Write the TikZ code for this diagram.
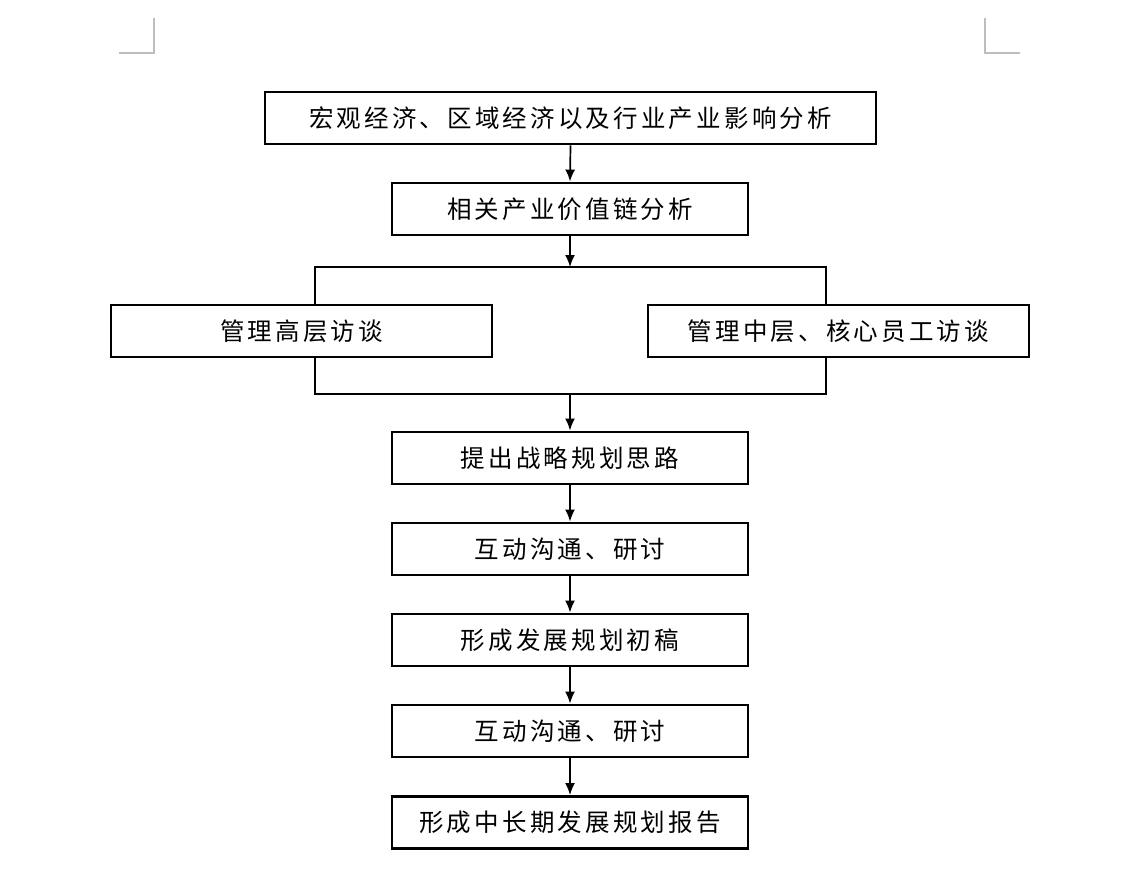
\documentclass[tikz,border=0pt]{standalone}
\usepackage{fontspec}
\newfontfamily\cjk[LetterSpace=13]{Noto Sans CJK SC}
\usetikzlibrary{arrows.meta}
\definecolor{markgray}{RGB}{190,190,190}
\tikzset{
  box/.style={draw=black, line width=2.9pt, fill=white, minimum height=52pt, inner sep=0pt, font=\cjk\fontsize{24.5pt}{28pt}\selectfont},
  conn/.style={draw=black, line width=1.7pt},
  arr/.style={conn, -{Latex[length=12pt,width=10pt]}},
  cornermark/.style={draw=markgray, line width=1.4pt}
}
\begin{document}
\begin{tikzpicture}[x=1pt,y=-1pt]
\fill[white] (0,0) rectangle (1148,880);
\useasboundingbox (0,0) rectangle (1148,880);
% corner marks
\draw[cornermark] (154,18) -- (154,53) -- (119,53);
\draw[cornermark] (985,18) -- (985,53) -- (1020,53);
% boxes
\node[box, minimum width=611pt] (b1) at (570.5,118) {宏观经济、区域经济以及行业产业影响分析};
\node[box, minimum width=356pt] (b2) at (570,209) {相关产业价值链分析};
\node[box, minimum width=381pt] (b3) at (301.5,331) {管理高层访谈};
\node[box, minimum width=381pt] (b4) at (838.5,331) {管理中层、核心员工访谈};
\node[box, minimum width=356pt] (b5) at (570,458) {提出战略规划思路};
\node[box, minimum width=356pt] (b6) at (570,549) {互动沟通、研讨};
\node[box, minimum width=356pt] (b7) at (570,640) {形成发展规划初稿};
\node[box, minimum width=356pt] (b8) at (570,731) {互动沟通、研讨};
\node[box, minimum width=356pt] (b9) at (570,822.5) {形成中长期发展规划报告};
% split / merge coordinates
\coordinate (tm) at (570,267);
\coordinate (tl) at (315,267);
\coordinate (tr) at (826,267);
\coordinate (bl) at (315,394);
\coordinate (br) at (826,394);
\coordinate (bm) at (570,394);
% connectors
\draw[arr] (b1.south) -- (b2.north);
\draw[arr] (b2.south) -- (tm);
\draw[conn] (tl |- b3.north) -- (tl) -- (tr) -- (tr |- b4.north);
\draw[conn] (bl |- b3.south) -- (bl) -- (br) -- (br |- b4.south);
\draw[arr] (bm) -- (b5.north);
\draw[arr] (b5.south) -- (b6.north);
\draw[arr] (b6.south) -- (b7.north);
\draw[arr] (b7.south) -- (b8.north);
\draw[arr] (b8.south) -- (b9.north);
\end{tikzpicture}
\end{document}
